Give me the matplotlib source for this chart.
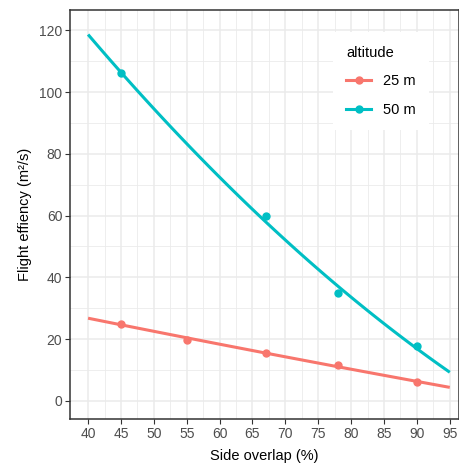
import numpy as np
import matplotlib
matplotlib.use("Agg")
import matplotlib.pyplot as plt
from matplotlib.lines import Line2D

plt.rcParams['font.family'] = ['Liberation Sans', 'DejaVu Sans']

# measured flight efficiency by side overlap
overlap_25 = [45, 55, 67, 78, 90]
effic_25 = [25.0, 19.7, 15.5, 11.6, 6.0]
overlap_50 = [45, 67, 78, 90]
effic_50 = [106.1, 59.8, 34.8, 17.7]

groups = ["25 m", "50 m"]
colors = ["#F8766D", "#00BFC4"]
xticks = list(range(40, 100, 5))
yticks = [0, 20, 40, 60, 80, 100, 120]

fig = plt.figure(figsize=(4.59, 4.63), dpi=100)
ax = fig.add_axes([70 / 459, 1 - 419 / 463, (459 - 70) / 459, (419 - 10) / 463])

# quadratic smooth per altitude, plus the raw points
xs = np.linspace(40, 95, 100)
for xv, yv, col in [(overlap_25, effic_25, colors[0]), (overlap_50, effic_50, colors[1])]:
    coef = np.polyfit(xv, yv, 2)
    ax.plot(xs, np.polyval(coef, xs), color=col, lw=2.2, solid_capstyle='butt', zorder=3)
    ax.plot(xv, yv, 'o', color=col, ms=5, zorder=4)

ax.set_xlim(37.25, 96.4)
ax.set_ylim(-5.9, 126.6)
ax.set_xticks(xticks)
ax.set_yticks(yticks)
ax.set_xticks(np.arange(42.5, 96, 5), minor=True)
ax.set_yticks(np.arange(10, 121, 20), minor=True)
ax.grid(which='major', color='#EBEBEB', lw=1.1)
ax.grid(which='minor', color='#EBEBEB', lw=0.6)
ax.set_axisbelow(True)
ax.tick_params(which='major', length=3.5, width=0.8, color='#333333', labelsize=10, labelcolor='#4D4D4D', pad=2)
ax.tick_params(which='minor', length=0)
for s in ax.spines.values():
    s.set_color('#333333')
    s.set_linewidth(1.1)

ax.set_xlabel("Side overlap (%)", fontsize=10.5, labelpad=6)
ax.set_ylabel("Flight effiency (m²/s)", fontsize=10.5, labelpad=5)

handles = [Line2D([], [], color=c, lw=2.2, marker='o', ms=5) for c in colors]
leg = ax.legend(handles, groups, title="altitude", loc='upper left',
                bbox_to_anchor=(0.658, 0.963), frameon=True, fontsize=10.5,
                title_fontsize=10.5, handlelength=1.7, handletextpad=0.8,
                labelspacing=1.0, borderpad=0.9)
leg.get_frame().set_edgecolor('none')
leg.get_frame().set_facecolor('white')
leg.get_frame().set_alpha(1)
leg.get_frame().set_boxstyle('square', pad=0)
leg._legend_box.align = "left"

fig.savefig("out.png", dpi=100)
